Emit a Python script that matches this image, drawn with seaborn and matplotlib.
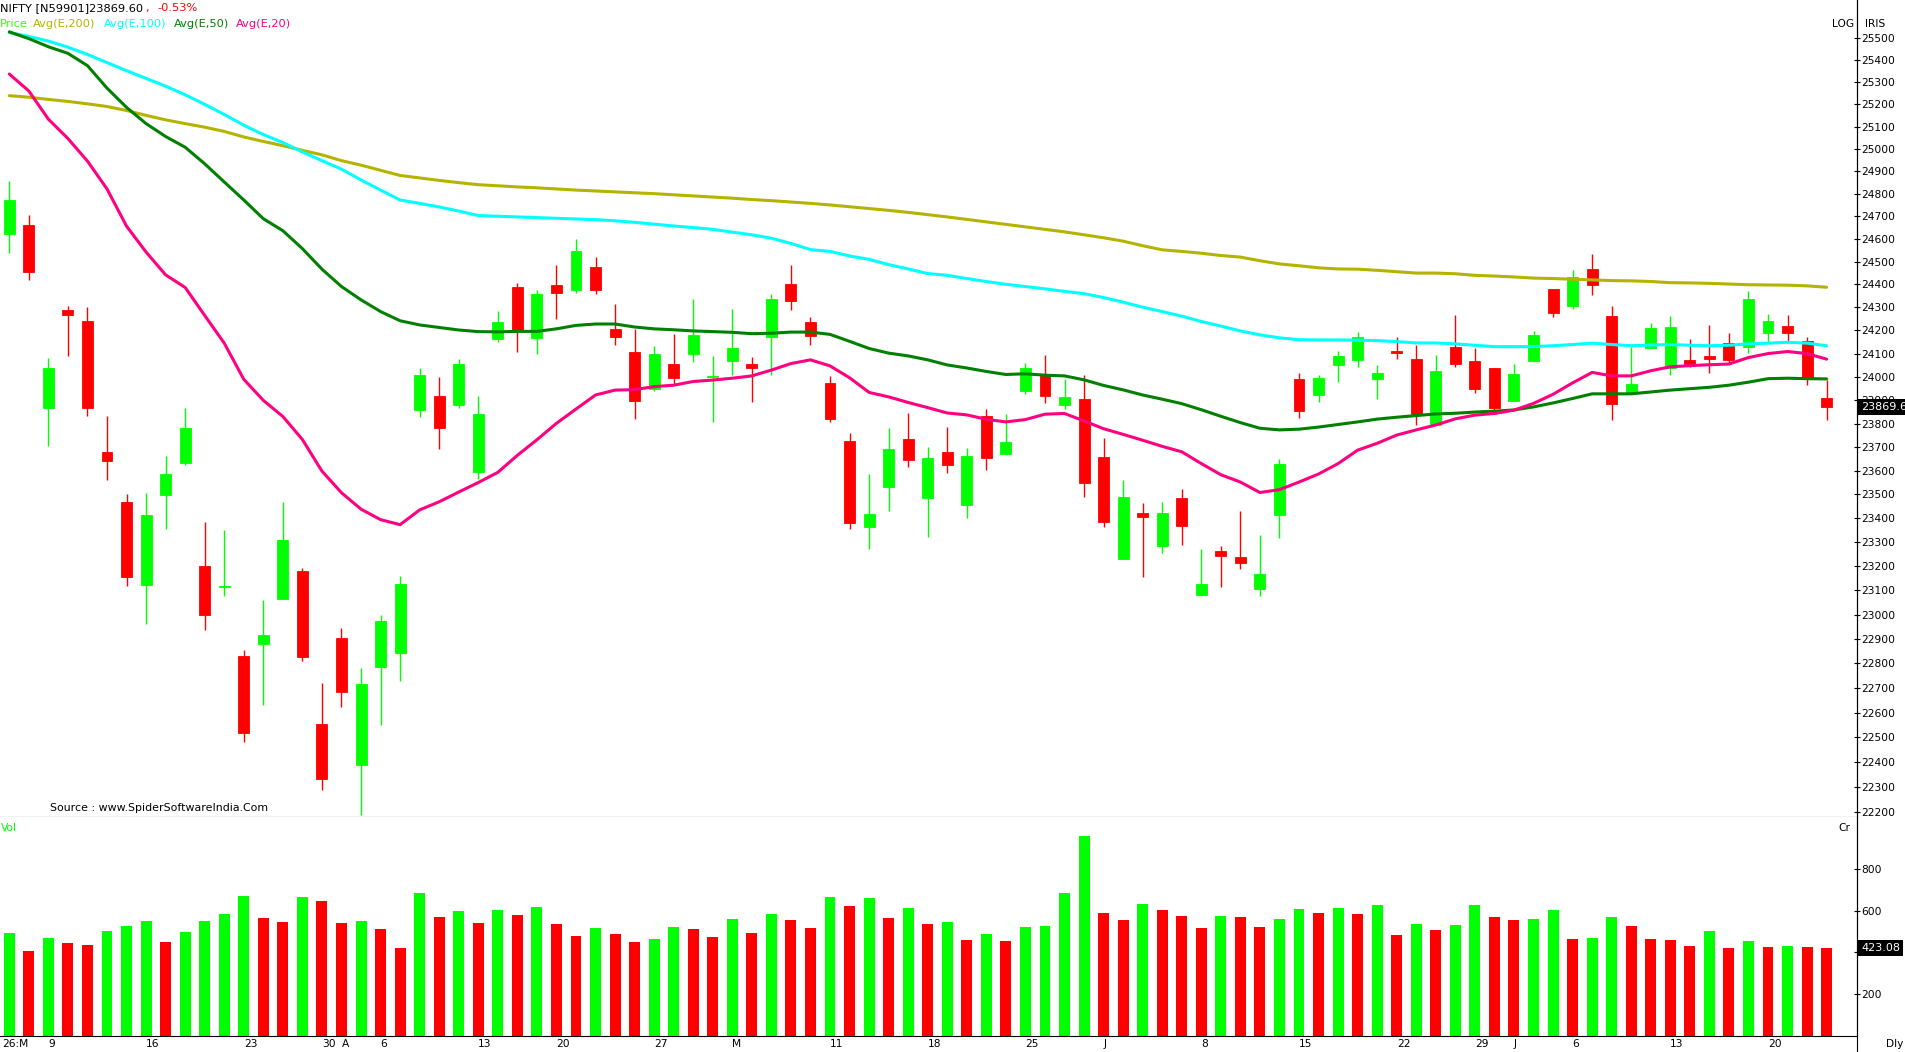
import numpy as np
import pandas as pd
import matplotlib
matplotlib.use("Agg")
import matplotlib.pyplot as plt
import matplotlib.transforms as mtransforms
from matplotlib.lines import Line2D
from matplotlib.ticker import FixedLocator, FixedFormatter, NullLocator
import seaborn as sns

# ---- data (daily candles, index 0..93) ----
opens = [24620, 24662, 23868, 24287, 24239, 23680, 23469, 23120, 23497, 23632,
         23199, 23112, 22830, 22880, 23066, 23180, 22555, 22902, 22388, 22784,
         22841, 23859, 23919, 23881, 23594, 24163, 24389, 24169, 24397, 24377,
         24476, 24207, 24108, 23947, 24056, 24100, 23998, 24066, 24056, 24172,
         24402, 24238, 23975, 23726, 23365, 23531, 23734, 23483, 23681, 23456,
         23831, 23672, 23939, 24010, 23881, 23905, 23658, 23231, 23422, 23286,
         23485, 23082, 23263, 23239, 23105, 23414, 23991, 23923, 24049, 24074,
         23992, 24113, 24077, 23795, 24129, 24069, 24038, 23898, 24066, 24380,
         24308, 24467, 24264, 23930, 24126, 24040, 24073, 24090, 24146, 24130,
         24191, 24220, 24155, 23910]
highs = [24857, 24705, 24081, 24307, 24303, 23834, 23501, 23507, 23663, 23867,
         23385, 23352, 22855, 23060, 23469, 23191, 22720, 22944, 22782, 22999,
         23159, 24037, 24000, 24077, 23917, 24285, 24406, 24376, 24485, 24600,
         24520, 24315, 24207, 24132, 24186, 24337, 24090, 24294, 24086, 24358,
         24485, 24259, 24004, 23760, 23587, 23783, 23845, 23702, 23786, 23697,
         23862, 23840, 24060, 24095, 23989, 24009, 23739, 23561, 23464, 23468,
         23523, 23272, 23285, 23431, 23331, 23650, 24017, 24009, 24112, 24194,
         24051, 24172, 24138, 24093, 24268, 24126, 24040, 24056, 24198, 24382,
         24463, 24533, 24307, 24130, 24233, 24264, 24163, 24224, 24190, 24372,
         24272, 24268, 24172, 23985]
lows = [24537, 24421, 23704, 24088, 23834, 23561, 23118, 22963, 23354, 23624,
        22936, 23075, 22480, 22631, 23062, 22810, 22287, 22623, 22190, 22549,
        22726, 23830, 23691, 23865, 23566, 24152, 24109, 24100, 24248, 24361,
        24359, 24138, 23820, 23941, 23966, 24064, 23805, 24009, 23890, 24006,
        24289, 24135, 23805, 23354, 23271, 23431, 23616, 23323, 23592, 23403,
        23604, 23670, 23928, 23889, 23862, 23489, 23365, 23228, 23156, 23253,
        23290, 23076, 23112, 23190, 23078, 23319, 23825, 23894, 23976, 24044,
        23905, 24078, 23792, 23793, 24044, 23932, 23843, 23896, 24064, 24260,
        24294, 24356, 23814, 23928, 24124, 24006, 24042, 24018, 24057, 24104,
        24145, 24152, 23966, 23814]
closes = [24772, 24454, 24039, 24265, 23868, 23641, 23154, 23413, 23587, 23781,
          22999, 23118, 22516, 22914, 23310, 22825, 22334, 22683, 22716, 22972,
          23126, 24009, 23783, 24054, 23841, 24238, 24198, 24358, 24364, 24545,
          24377, 24173, 23898, 24099, 23997, 24181, 24004, 24125, 24036, 24337,
          24329, 24178, 23818, 23381, 23419, 23692, 23646, 23654, 23622, 23663,
          23655, 23722, 24038, 23916, 23915, 23546, 23385, 23489, 23407, 23422,
          23369, 23126, 23244, 23215, 23167, 23629, 23855, 23996, 24090, 24172,
          24017, 24103, 23836, 24026, 24057, 23949, 23868, 24013, 24180, 24275,
          24431, 24398, 23885, 23970, 24211, 24216, 24053, 24078, 24074, 24337,
          24242, 24191, 23997, 23869.6]
volumes = [493, 406, 469, 445, 435, 503, 527, 551, 450, 498,
           551, 585, 671, 565, 546, 667, 647, 541, 551, 512,
           421, 686, 570, 599, 541, 604, 580, 618, 537, 479,
           517, 488, 450, 464, 522, 512, 474, 561, 493, 585,
           556, 517, 667, 623, 662, 565, 614, 537, 546, 459,
           488, 455, 522, 527, 686, 961, 590, 556, 633, 604,
           575, 517, 575, 570, 522, 561, 609, 590, 614, 585,
           628, 484, 537, 508, 532, 628, 570, 556, 561, 604,
           464, 469, 570, 527, 464, 459, 431, 503, 421, 455,
           426, 431, 426, 423.08]

ema200 = [25239, 25232, 25222, 25213, 25202, 25190, 25172, 25150, 25130, 25113,
          25097, 25078, 25053, 25033, 25014, 24993, 24973, 24947, 24927, 24904,
          24881, 24870, 24859, 24849, 24840, 24835, 24830, 24826, 24821, 24816,
          24812, 24808, 24804, 24800, 24795, 24790, 24785, 24780, 24774, 24769,
          24763, 24757, 24750, 24742, 24734, 24726, 24717, 24707, 24697, 24686,
          24675, 24664, 24653, 24642, 24631, 24618, 24605, 24590, 24570, 24552,
          24545, 24537, 24527, 24520, 24504, 24490, 24482, 24473, 24468, 24467,
          24462, 24456, 24450, 24450, 24447, 24440, 24437, 24433, 24428, 24426,
          24423, 24420, 24417, 24416, 24413, 24408, 24407, 24405, 24402, 24399,
          24398, 24397, 24394, 24388]
ema100 = [25526, 25508, 25487, 25459, 25426, 25389, 25352, 25317, 25282, 25243,
          25200, 25154, 25106, 25064, 25028, 24986, 24947, 24909, 24861, 24816,
          24772, 24757, 24741, 24723, 24703, 24700, 24697, 24694, 24691, 24688,
          24685, 24680, 24673, 24665, 24657, 24650, 24642, 24630, 24618, 24603,
          24580, 24553, 24545, 24525, 24510, 24487, 24468, 24448, 24440, 24426,
          24413, 24401, 24391, 24381, 24370, 24360, 24343, 24323, 24301, 24282,
          24262, 24239, 24219, 24198, 24181, 24168, 24160, 24159, 24159, 24158,
          24156, 24152, 24146, 24146, 24142, 24136, 24130, 24130, 24130, 24134,
          24139, 24145, 24139, 24134, 24137, 24139, 24136, 24134, 24136, 24142,
          24145, 24149, 24145, 24134]
ema50 = [25529, 25498, 25461, 25431, 25375, 25273, 25186, 25113, 25055, 25007,
         24933, 24852, 24772, 24689, 24636, 24557, 24467, 24391, 24333, 24282,
         24242, 24224, 24213, 24202, 24195, 24194, 24196, 24196, 24207, 24222,
         24228, 24228, 24215, 24207, 24203, 24198, 24195, 24192, 24186, 24188,
         24193, 24193, 24183, 24153, 24122, 24102, 24090, 24073, 24051, 24038,
         24023, 24010, 24013, 24007, 24004, 23987, 23963, 23944, 23922, 23904,
         23885, 23859, 23831, 23804, 23780, 23773, 23776, 23785, 23796, 23807,
         23819, 23827, 23834, 23841, 23844, 23849, 23853, 23858, 23871, 23888,
         23907, 23927, 23927, 23927, 23935, 23943, 23949, 23955, 23964, 23977,
         23992, 23994, 23992, 23991]
ema20 = [25337, 25260, 25133, 25046, 24945, 24821, 24656, 24542, 24442, 24387,
         24265, 24145, 23989, 23899, 23830, 23732, 23598, 23507, 23438, 23394,
         23373, 23435, 23469, 23510, 23550, 23593, 23665, 23731, 23801, 23862,
         23922, 23943, 23945, 23958, 23964, 23980, 23986, 23994, 24004, 24029,
         24057, 24073, 24047, 23996, 23933, 23914, 23890, 23868, 23845, 23837,
         23818, 23807, 23817, 23840, 23843, 23811, 23778, 23754, 23729, 23703,
         23680, 23630, 23583, 23552, 23508, 23520, 23552, 23586, 23630, 23687,
         23716, 23751, 23773, 23794, 23820, 23836, 23843, 23857, 23886, 23925,
         23974, 24019, 24004, 24004, 24026, 24043, 24048, 24052, 24055, 24083,
         24100, 24109, 24100, 24076]

date_pos = [0, 2, 7, 12, 16, 17, 19, 24, 28, 33, 37, 42, 47, 52, 56, 61, 66, 71, 75, 77, 80, 85, 90]
date_labels = ["26:M", "9", "16", "23", "30", "A", "6", "13", "20", "27", "M", "11", "18",
               "25", "J", "8", "15", "22", "29", "J", "6", "13", "20"]
price_ticks = list(range(22200, 25600, 100))
vol_ticks = [200, 400, 600, 800]
vol_tick_labels = ["200", "", "600", "800"]

GREEN = "#00FF00"
RED = "#FF0000"
MA_COLORS = {"Avg(E,200)": "#B4B400", "Avg(E,100)": "#00FFFF",
             "Avg(E,50)": "#008000", "Avg(E,20)": "#FF0080"}

sns.set_theme(style="white")
plt.rcParams["font.family"] = ["DejaVu Sans"]

W, H = 1906, 1052
fig = plt.figure(figsize=(W / 100, H / 100), dpi=100)
fig.patch.set_facecolor("white")


def fx(px):
    return px / W


def fy(py):
    return 1 - py / H


AXIS_X = 1857.3
SEP_Y = 817.3
VOL_BOTTOM = 1035.6

ax = fig.add_axes([0, fy(SEP_Y), fx(AXIS_X), 1 - fy(SEP_Y)])
axv = fig.add_axes([0, fy(VOL_BOTTOM), fx(AXIS_X), fy(SEP_Y) - fy(VOL_BOTTOM)])

o = np.array(opens, dtype=float)
h = np.array(highs, dtype=float)
l = np.array(lows, dtype=float)
c = np.array(closes, dtype=float)
v = np.array(volumes, dtype=float)
idx = np.arange(len(c))

# candles
cols = np.where(c >= o, GREEN, RED)
ax.vlines(idx, l, h, colors=cols, lw=1.0, zorder=2)
ax.bar(idx, np.abs(c - o), bottom=np.minimum(o, c), width=0.56,
       color=cols, edgecolor=cols, linewidth=0.6, zorder=2)

# moving averages
ma_df = pd.DataFrame({"idx": idx, "Avg(E,200)": ema200, "Avg(E,100)": ema100,
                      "Avg(E,50)": ema50, "Avg(E,20)": ema20})
ma_long = ma_df.melt(id_vars="idx", var_name="ma", value_name="val")
sns.lineplot(data=ma_long, x="idx", y="val", hue="ma", palette=MA_COLORS,
             linewidth=2.2, legend=False, ax=ax, zorder=3)

ax.set_yscale("log")
ax.set_ylim(22180, 25675)
ax.set_xlim(-0.476, 94.57)
ax.set_xlabel("")
ax.set_ylabel("")
ax.set_xticks([])
ax.yaxis.tick_right()
ax.yaxis.set_major_locator(FixedLocator(price_ticks))
ax.yaxis.set_minor_locator(NullLocator())
ax.yaxis.set_major_formatter(FixedFormatter([str(t) for t in price_ticks]))
ax.tick_params(axis="y", direction="inout", length=4, width=0.8, pad=0.5,
               labelsize=7.7, colors="black", right=True, left=False)
for s in ["left", "top"]:
    ax.spines[s].set_visible(False)
for s in ["right", "bottom"]:
    ax.spines[s].set_color("black")
    ax.spines[s].set_linewidth(0.8)

# volume: green when volume rose from the previous day
vol_up = np.concatenate([[True], v[1:] >= v[:-1]])
vcols = np.where(vol_up, GREEN, RED)
axv.bar(idx, v, width=0.56, color=vcols, linewidth=0)
axv.set_xlim(-0.476, 94.57)
axv.set_ylim(0, 1050.5)
axv.yaxis.tick_right()
axv.set_yticks(vol_ticks)
axv.set_yticklabels(vol_tick_labels)
axv.tick_params(axis="y", direction="inout", length=4, width=0.8, pad=0.5,
                labelsize=7.7, colors="black", right=True, left=False)
axv.set_xticks(date_pos)
axv.set_xticklabels(date_labels, ha="left")
axv.tick_params(axis="x", length=0, pad=2.5, labelsize=7.7, colors="black")
first = axv.get_xticklabels()[0]
first.set_transform(first.get_transform() +
                    mtransforms.ScaledTranslation(-0.07, 0, fig.dpi_scale_trans))
axv.spines["left"].set_visible(False)
axv.spines["top"].set_visible(False)
for s in ["right", "bottom"]:
    axv.spines[s].set_color("black")
    axv.spines[s].set_linewidth(0.8)

# full-height price scale line
fig.add_artist(Line2D([fx(AXIS_X)] * 2, [0, 1], color="black", lw=0.8,
                      transform=fig.transFigure))

# header texts
fs = 8.2
fig.text(fx(0), fy(8), "NIFTY [N59901]23869.60", fontsize=fs, va="center", color="black")
fig.text(fx(145), fy(8), ",", fontsize=fs, va="center", color=RED)
fig.text(fx(157), fy(8), "-0.53%", fontsize=fs, va="center", color=RED)
fig.text(fx(0), fy(24), "Price", fontsize=fs, va="center", color="#33FF00")
fig.text(fx(33), fy(24), "Avg(E,200)", fontsize=fs, va="center", color=MA_COLORS["Avg(E,200)"])
fig.text(fx(104), fy(24), "Avg(E,100)", fontsize=fs, va="center", color=MA_COLORS["Avg(E,100)"])
fig.text(fx(174), fy(24), "Avg(E,50)", fontsize=fs, va="center", color=MA_COLORS["Avg(E,50)"])
fig.text(fx(236), fy(24), "Avg(E,20)", fontsize=fs, va="center", color=MA_COLORS["Avg(E,20)"])
fig.text(fx(1832), fy(24), "LOG", fontsize=7.7, va="center", color="black")
fig.text(fx(1865), fy(24), "IRIS", fontsize=7.7, va="center", color="black")
fig.text(fx(50), fy(808), "Source : www.SpiderSoftwareIndia.Com", fontsize=7.9,
         va="center", color="black")
fig.text(fx(1), fy(828), "Vol", fontsize=7.7, va="center", color=GREEN)
fig.text(fx(1838), fy(828), "Cr", fontsize=7.7, va="center", color="black")
fig.text(fx(1886), fy(1044), "Dly", fontsize=7.7, va="center", color="black")

# last value boxes
tr_p = mtransforms.blended_transform_factory(fig.transFigure, ax.transData)
fig.text(fx(1861), c[-1], "23869.6", transform=tr_p, fontsize=8, color="white",
         va="center", ha="left", zorder=10,
         bbox=dict(facecolor="black", edgecolor="none", pad=2.2))
tr_v = mtransforms.blended_transform_factory(fig.transFigure, axv.transData)
fig.text(fx(1861), v[-1], "423.08", transform=tr_v, fontsize=8, color="white",
         va="center", ha="left", zorder=10,
         bbox=dict(facecolor="black", edgecolor="none", pad=2.2))

fig.savefig("out.png", dpi=100, facecolor="white")
